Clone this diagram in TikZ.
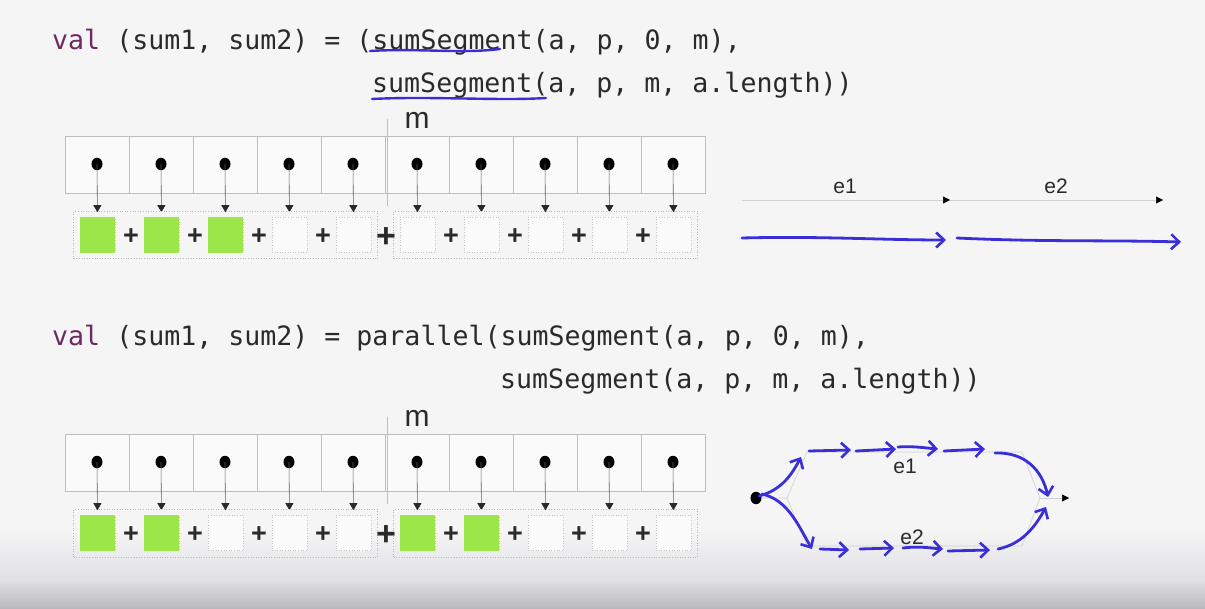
\documentclass[tikz,border=0pt]{standalone}
\usepackage{fontspec}
\setmainfont{Liberation Sans}
\setmonofont{DejaVu Sans Mono}
\usetikzlibrary{arrows.meta,calc,fit,shapes.geometric}

\definecolor{bg}{HTML}{F5F5F6}
\definecolor{cellline}{HTML}{BEBEBE}
\definecolor{grn}{HTML}{9CE64A}
\definecolor{penblue}{HTML}{3A2ED8}
\definecolor{kw}{HTML}{6E2A5E}
\definecolor{ink}{HTML}{2A2A2A}
\definecolor{shadow}{HTML}{B9B7BE}

\tikzset{
  cell/.style={draw=cellline, line width=0.6pt, fill=white!55!bg,
    minimum width=64pt, minimum height=57pt, inner sep=0pt},
  pin/.style={ellipse, fill=black, inner sep=0pt, minimum width=11pt, minimum height=12.5pt},
  slot/.style={draw=gray!45, dotted, line width=0.6pt, fill=white!50!bg,
    minimum width=35pt, minimum height=35pt, inner sep=0pt},
  group/.style={draw=gray!55, dotted, line width=0.6pt, inner sep=6pt},
  ptr/.style={draw=ink!75, line width=0.6pt, shorten >=5pt,
    -{Triangle[width=8pt,length=7pt,fill=ink,color=ink]}},
  divider/.style={draw=cellline, line width=0.8pt},
  plus/.style={font=\fontsize{27}{27}\selectfont\bfseries, text=ink, inner sep=0pt},
  bigplus/.style={font=\fontsize{34}{34}\selectfont\bfseries, text=ink, inner sep=0pt},
  code/.style={font=\ttfamily\fontsize{26.6}{30}\selectfont, text=ink,
    anchor=base west, inner sep=0pt},
  lbl/.style={font=\fontsize{21}{21}\selectfont, text=ink, inner sep=0pt},
  mlbl/.style={font=\fontsize{30}{30}\selectfont, text=ink, inner sep=0pt},
  flow/.style={draw=gray!35, line width=0.7pt},
  flowtip/.style={flow, -{Triangle[width=7pt,length=7pt,fill=black,color=black]}},
  pen/.style={draw=penblue, line width=2.8pt, line cap=round, line join=round,
    -{Straight Barb[length=8pt,width=15pt,line width=2.6pt]}},
  penline/.style={draw=penblue, line width=2.4pt, line cap=round},
}

\begin{document}
\begin{tikzpicture}[x=1pt,y=-1pt]
  % page and soft bottom shadow
  \useasboundingbox (0,0) rectangle (1205,609);
  \fill[bg] (0,0) rectangle (1205,609);
  \shade[top color=bg, bottom color=shadow!35!bg] (0,530) rectangle (1205,580);
  \shade[top color=shadow!35!bg, bottom color=shadow] (0,580) rectangle (1205,609);

  % ---- code, sequential version ----
  \node[code] (codeA1) at (52,50) {\textcolor{kw}{val} (sum1, sum2) = (sumSegment(a, p, 0, m),};
  \node[code] (codeA2) at (372,93) {sumSegment(a, p, m, a.length))};
  \draw[penline] (370,51) .. controls (420,48) and (460,54) .. (500,49);
  \draw[penline] (372,99) .. controls (430,96) and (500,101) .. (546,98);

  % ---- code, parallel version ----
  \node[code] (codeB1) at (52,346) {\textcolor{kw}{val} (sum1, sum2) = parallel(sumSegment(a, p, 0, m),};
  \node[code] (codeB2) at (500,389) {sumSegment(a, p, m, a.length))};

  % ---- the two arrays with their partial sums ----
  \foreach \p/\oy/\greens in {A/0/{1,2,3}, B/298/{1,2,6,7}} {
    \foreach \i in {1,...,10} {
      \node[cell] (\p c\i) at (33+64*\i, 164.5+\oy) {};
    }
    \coordinate (\p mtop) at (387,119+\oy);
    \coordinate (\p mbot) at (387,206+\oy);
    \draw[divider] (\p mtop) -- (\p mbot);
    \node[mlbl] (\p m) at (417,120+\oy) {m};
    \foreach \i in {1,...,10} {
      \node[pin] (\p d\i) at (33+64*\i, 164+\oy) {};
      \node[slot] (\p s\i) at (33.5+64*\i, 235+\oy) {};
      \draw[ptr] (\p d\i.center) -- (\p s\i.north);
    }
    \foreach \g in \greens {
      \fill[grn] (\p s\g.south west) rectangle (\p s\g.north east);
    }
    \node[group, fit=(\p s1)(\p s5)] (\p g1) {};
    \node[group, fit=(\p s6)(\p s10)] (\p g2) {};
    \foreach \i in {1,2,3,4,6,7,8,9} {
      \node[plus] (\p p\i) at (67+64*\i, 237+\oy) {+};
    }
    \node[bigplus] (\p pm) at (386, 238+\oy) {+};
  }

  % ---- sequential timeline ----
  \coordinate (t0) at (742,200);
  \coordinate (t1) at (950,200);
  \coordinate (t2) at (1163,200);
  \draw[flowtip] (t0) -- (t1);
  \draw[flowtip] (t1) -- (t2);
  \node[lbl] (e1a) at (845,186) {e1};
  \node[lbl] (e2a) at (1056,186) {e2};
  \draw[pen] (742,238) .. controls (820,236) and (880,240) .. (946,240);
  \draw[pen] (957,238) .. controls (1040,242) and (1110,240) .. (1181,242);

  % ---- parallel fork / join ----
  \node[pin] (src) at (756,498) {};
  \coordinate (fork) at (787,498);
  \coordinate (u1) at (807,452);
  \coordinate (u2) at (1022,452);
  \coordinate (l1) at (807,546);
  \coordinate (l2) at (1022,546);
  \coordinate (join) at (1040,498);
  \coordinate (out) at (1069,498);
  \draw[flow] (src) -- (fork) -- (u1) -- (u2) -- (join);
  \draw[flow] (fork) -- (l1) -- (l2) -- (join);
  \draw[flowtip] (join) -- (out);
  \node[lbl] (e1b) at (905,466) {e1};
  \node[lbl] (e2b) at (912,537) {e2};

  % pen strokes following the two branches
  \draw[pen] (759,496) .. controls (782,490) and (792,474) .. (801,457);
  \draw[pen] (762,494) .. controls (788,500) and (798,525) .. (812,549);
  \draw[pen] (809,451) -- (851,450);
  \draw[pen] (856,451) -- (896,449);
  \draw[pen] (898,447) .. controls (915,446) and (925,448) .. (938,449);
  \draw[pen] (944,451) -- (985,449);
  \draw[pen] (995,453) .. controls (1025,452) and (1042,470) .. (1048,497);
  \draw[pen] (820,549) -- (849,550);
  \draw[pen] (860,549) -- (894,548);
  \draw[pen] (903,548) .. controls (918,546) and (930,548) .. (943,549);
  \draw[pen] (948,551) -- (990,550);
  \draw[pen] (998,549) .. controls (1022,544) and (1035,527) .. (1046,507);
\end{tikzpicture}
\end{document}
